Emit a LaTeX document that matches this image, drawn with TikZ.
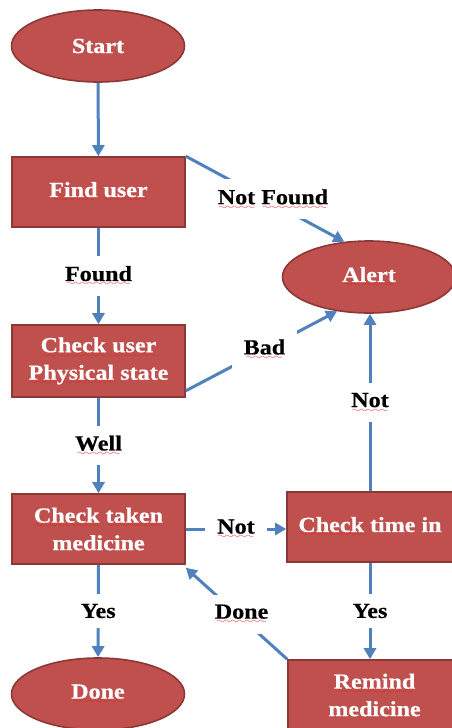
\documentclass[tikz,border=0pt]{standalone}
\usepackage{fontspec}
\setmainfont[FakeStretch=1.12, BoldFeatures={FakeBold=0.5}]{Liberation Serif}
\usetikzlibrary{shapes.geometric,arrows.meta,calc}

\definecolor{boxfill}{HTML}{C0504D}
\definecolor{boxline}{HTML}{8C3836}
\definecolor{flowblue}{HTML}{4F81BD}
\definecolor{squig}{HTML}{E02020}

% red wavy underline of a spell-checked word
\font\squigfont=lasy6 scaled 1400
\newsavebox\sqword
\newcommand\sq[1]{\sbox\sqword{#1}%
  \rlap{\color{squig}\lower5pt\hbox to\wd\sqword{\cleaders\hbox{\squigfont\char58}\hfil}}%
  \usebox\sqword}

\newcommand\chartfont{\fontsize{21.5}{27.5}\selectfont\bfseries}

\tikzset{
  stepbox/.style={rectangle, fill=boxfill, draw=boxline, line width=1.6pt,
    minimum width=173pt, minimum height=70pt, inner sep=0pt,
    text=white, font=\chartfont, align=center},
  term/.style={ellipse, fill=boxfill, draw=boxline, line width=1.6pt,
    minimum width=173pt, minimum height=72pt, inner sep=0pt,
    text=white, font=\chartfont, align=center},
  flow/.style={draw=flowblue, line width=3pt,
    -{Triangle[length=11pt,width=12pt]}},
  lbl/.style={fill=white, text=black, font=\chartfont,
    inner xsep=12pt, inner ysep=10pt}
}

\begin{document}
\begin{tikzpicture}[x=1pt, y=-1pt]
  \useasboundingbox (0,0) rectangle (452,728);

  % left column
  \node[term]    (start) at (98,46)    {Start};
  \node[stepbox] (fu)    at (98.5,192) {\sq{Find} \sq{user}};
  \node[stepbox, minimum height=72pt] (cu) at (98.5,361)
        {\sq{Check} \sq{user}\\\sq{Physical} state};
  \node[stepbox] (ct)    at (98.5,529) {\sq{Check} \sq{taken}\\medicine};
  \node[term]    (done)  at (98,694)   {\sq{Done}};

  % right column
  \node[term]    (alert) at (369,277)  {\sq{Alert}};
  \node[stepbox, minimum width=166pt] (ctime) at (370,527)
        {\sq{Check} time in};
  \node[stepbox] (rm)    at (374.5,695) {\sq{Remind}\\medicine};

  % connectors
  \draw[flow] (start) -- (fu);
  \draw[flow] (fu) -- node[lbl] {\sq{Found}} (cu);
  \draw[flow] (cu) -- node[lbl] {\sq{Well}} (ct);
  \draw[flow] (ct) -- node[lbl] {Yes} (done);

  \draw[flow] (fu.north east) --
        node[lbl, pos=0.55, yshift=4pt] {\sq{Not} \sq{Found}} (alert.125);

  \coordinate (cuout) at ($(cu.south east)+(0,-7)$);
  \draw[flow] (cuout) -- node[lbl, pos=0.52] {\sq{Bad}} (alert.227);

  \draw[flow] (ctime.north) -- node[lbl] {\sq{Not}} (ctime.north |- alert.south);
  \draw[flow] (ct.east) -- node[lbl] {\sq{Not}} (ct.east -| ctime.west);
  \draw[flow] (ctime.south) -- node[lbl] {Yes} (ctime.south |- rm.north);

  \coordinate (ctin) at ($(ct.south east)+(0,3)$);
  \draw[flow] (rm.north west) --
        node[lbl, pos=0.45, yshift=4pt] {\sq{Done}} (ctin);
\end{tikzpicture}
\end{document}
